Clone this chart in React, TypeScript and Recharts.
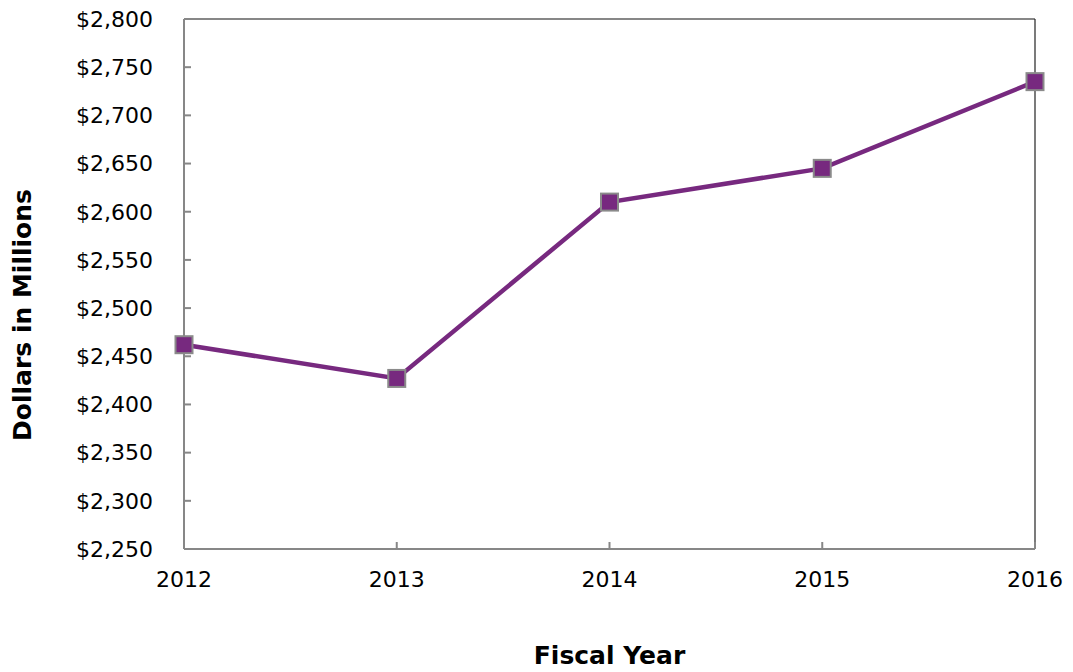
import React from "react";
import { LineChart, Line, XAxis, YAxis, ReferenceLine, Label } from "recharts";

const years = [2012, 2013, 2014, 2015, 2016];
const spending = [2462, 2427, 2610, 2645, 2735];
const yTicks = [2250, 2300, 2350, 2400, 2450, 2500, 2550, 2600, 2650, 2700, 2750, 2800];

const data = years.map((year, i) => ({ year, value: spending[i] }));

const PURPLE = "#77297F";
const AXIS = "#878787";
const FONT = "'DejaVu Sans', Verdana, sans-serif";

const fmtDollars = (v: number) => "$" + v.toLocaleString("en-US");

// square marker with a gray outline
const SquareDot = (props: any) => {
  const { cx, cy } = props;
  if (cx == null || cy == null) return null;
  return <rect x={cx - 8.5} y={cy - 8.5} width={17} height={17} fill={PURPLE} stroke="#8a8a8a" strokeWidth={2} />;
};

export default function App() {
  return (
    <div style={{ width: 1073, height: 672, background: "#fff", fontFamily: FONT }}>
      <style>{"body{margin:0}"}</style>
      <LineChart width={1073} height={672} data={data} margin={{ top: 19, right: 38, bottom: 0, left: 0 }}>
        <XAxis
          dataKey="year"
          type="number"
          domain={[2012, 2016]}
          ticks={years}
          height={123}
          stroke={AXIS}
          strokeWidth={2}
          tickSize={-7}
          tickMargin={29}
          tick={{ fill: "#000", fontSize: 22, fontFamily: FONT }}
          tickLine={{ stroke: AXIS, strokeWidth: 2 }}
        >
          <Label
            value="Fiscal Year"
            position="insideBottom"
            offset={8}
            style={{ fill: "#000", fontSize: 25, fontWeight: "bold", fontFamily: FONT }}
          />
        </XAxis>
        <YAxis
          type="number"
          domain={[2250, 2800]}
          ticks={yTicks}
          width={184}
          stroke={AXIS}
          strokeWidth={2}
          tickSize={-7}
          tickMargin={38}
          tickFormatter={fmtDollars}
          tick={{ fill: "#000", fontSize: 22, fontFamily: FONT }}
          tickLine={{ stroke: AXIS, strokeWidth: 2 }}
        >
          <Label
            content={() => (
              <text
                x={31}
                y={315}
                transform="rotate(-90 31 315)"
                textAnchor="middle"
                style={{ fill: "#000", fontSize: 25, fontWeight: "bold", fontFamily: FONT }}
              >
                Dollars in Millions
              </text>
            )}
          />
        </YAxis>
        <ReferenceLine y={2800} stroke={AXIS} strokeWidth={2} />
        <ReferenceLine x={2016} stroke="#222" strokeWidth={1.2} />
        <Line
          type="linear"
          dataKey="value"
          stroke={PURPLE}
          strokeWidth={4.5}
          dot={<SquareDot />}
          activeDot={false}
          isAnimationActive={false}
        />
      </LineChart>
    </div>
  );
}
